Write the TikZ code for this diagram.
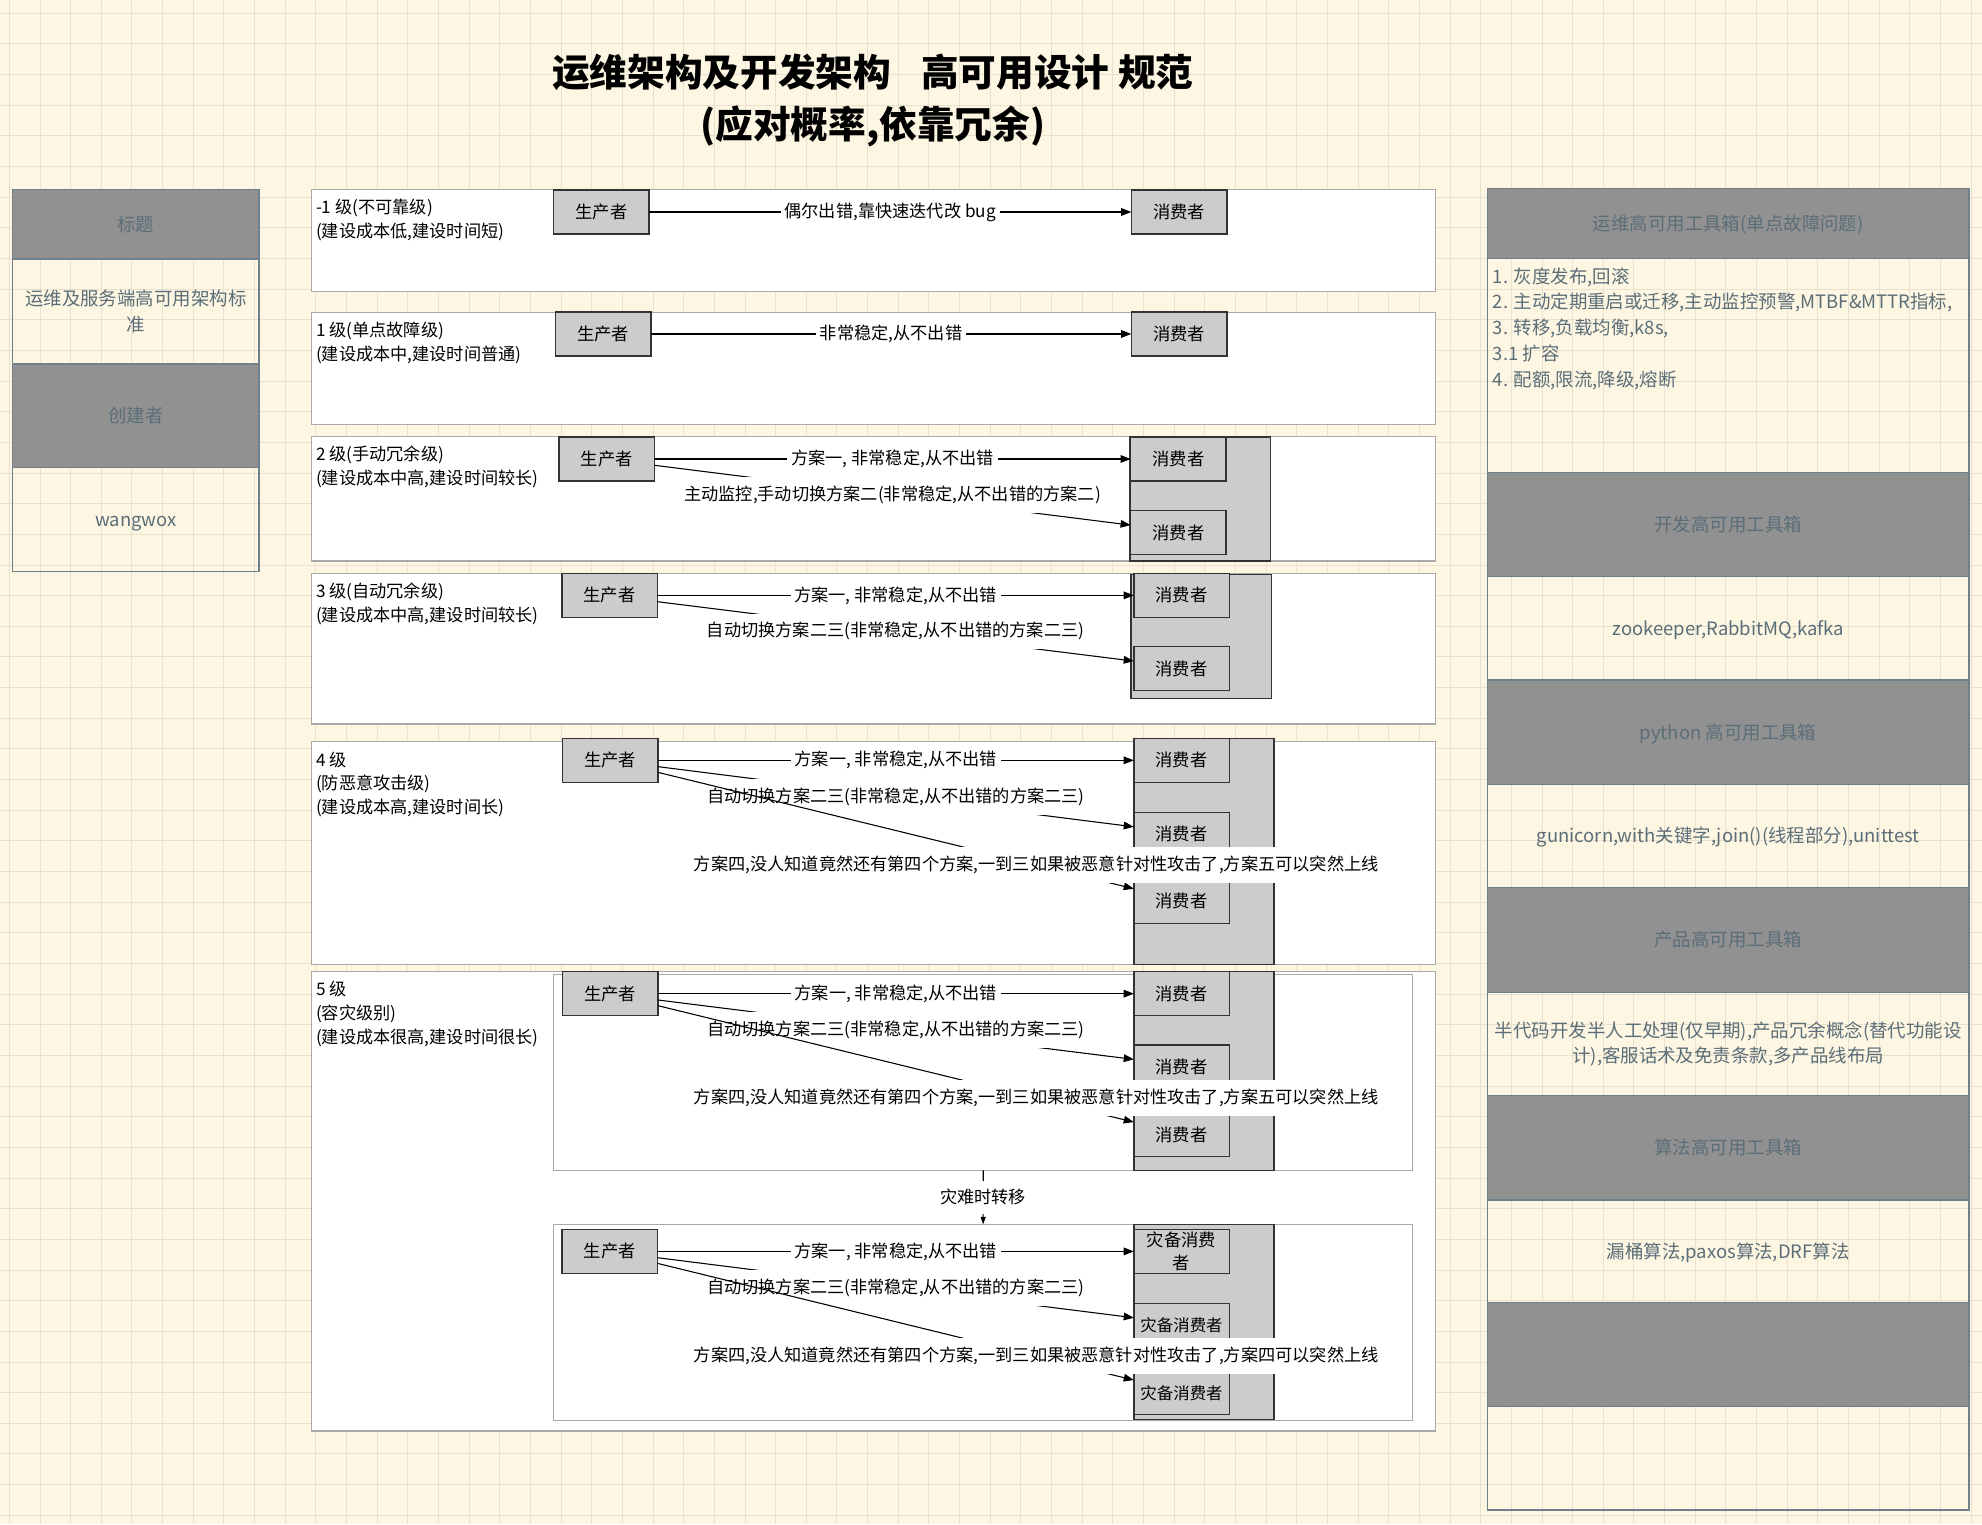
\documentclass[tikz,border=0pt]{standalone}
\usepackage{fontspec}
\setmainfont{Noto Sans CJK SC}
\usetikzlibrary{arrows.meta}
\definecolor{bgc}{HTML}{FDF6E3}
\definecolor{gridc}{HTML}{E9E1CF}
\definecolor{hdrfill}{HTML}{919191}
\definecolor{sideborder}{HTML}{6F818A}
\definecolor{sidetext}{HTML}{5B6E78}
\definecolor{panelborder}{HTML}{A9A9A9}
\definecolor{boxfill}{HTML}{CCCCCC}
\definecolor{boxborder}{HTML}{333333}
\tikzset{
  base/.style={inner sep=0pt, outer sep=0pt},
  gridline/.style={draw=gridc, line width=0.8pt},
  oneline/.style={text height=12.8pt, text depth=1.8pt},
  hdr/.style={base, draw=sideborder, fill=hdrfill, line width=1.1pt, text=sidetext, font=\fontsize{14.6}{20}\selectfont, anchor=north west, align=center},
  cell/.style={base, draw=sideborder, line width=1.1pt, text=sidetext, font=\fontsize{14.6}{20}\selectfont, anchor=north west, align=center},
  panel/.style={base, draw=panelborder, fill=white, line width=1.1pt, anchor=north west},
  prod/.style={base, draw=boxborder, fill=boxfill, line width=1.2pt, anchor=north west, minimum width=75.5pt, minimum height=34.8pt, font=\fontsize{13.7}{17.5}\selectfont, align=center},
  cont/.style={base, draw=boxborder, fill=boxfill, line width=1.2pt, anchor=north west, minimum width=111pt},
  lvl/.style={base, anchor=north west, align=left, font=\fontsize{13.6}{18.6}\selectfont},
  lbl/.style={fill=white, inner xsep=3pt, inner ysep=7pt, outer sep=0pt, font=\fontsize{13.6}{17}\selectfont, text=black},
  arr/.style={draw=black, line width=0.85pt, -{Triangle[length=8pt,width=6pt]}},
  arrsmall/.style={draw=black, line width=0.85pt, -{Triangle[length=6pt,width=4pt]}},
}
\begin{document}
\begin{tikzpicture}[x=1pt,y=-1pt]
\useasboundingbox (0,0) rectangle (1568,1205.7);
\fill[bgc] (0,0) rectangle (1568,1205.7);
\foreach \i in {0,...,64} \draw[gridline] ({7.4+24.25*\i},0) -- ({7.4+24.25*\i},1205.7);
\foreach \j in {0,...,49} \draw[gridline] (0,{10.5+24.25*\j}) -- (1568,{10.5+24.25*\j});

% title
\node[base, align=center, font=\fontsize{29.8}{41.5}\selectfont\bfseries] (title) at (690.5,79.5)
  {运维架构及开发架构\hspace{0.8em}高可用设计 规范\\(应对概率,依靠冗余)};

% left side panel
\node[hdr, oneline, minimum width=195pt, minimum height=55pt] (lh1) at (10,150) {标题};
\node[cell, minimum width=195pt, minimum height=83pt] (lb1) at (10,205) {运维及服务端高可用架构标\\准};
\node[hdr, oneline, minimum width=195pt, minimum height=82pt] (lh2) at (10,288) {创建者};
\node[cell, oneline, minimum width=195pt, minimum height=82pt] (lb2) at (10,370) {wangwox};

% right side panel
\node[hdr, oneline, minimum width=381pt, minimum height=55.4pt] (rh1) at (1176.7,149) {运维高可用工具箱(单点故障问题)};
\node[cell, minimum width=381pt, minimum height=169.6pt] (rb1) at (1176.7,204.4) {};
\node[base, anchor=north west, align=left, text=sidetext, font=\fontsize{14.6}{20.4}\selectfont] (rlist) at (1181,211.6)
  {1. 灰度发布,回滚\\2. 主动定期重启或迁移,主动监控预警,MTBF\&MTTR指标,\\3. 转移,负载均衡,k8s,\\3.1 扩容\\4. 配额,限流,降级,熔断};
\node[hdr, oneline, minimum width=381pt, minimum height=82pt] (rh2) at (1176.7,374) {开发高可用工具箱};
\node[cell, oneline, minimum width=381pt, minimum height=82pt] (rb2) at (1176.7,456) {zookeeper,RabbitMQ,kafka};
\node[hdr, oneline, minimum width=381pt, minimum height=82.5pt] (rh3) at (1176.7,538) {python 高可用工具箱};
\node[cell, oneline, minimum width=381pt, minimum height=81.8pt] (rb3) at (1176.7,620.5) {gunicorn,with关键字,join()(线程部分),unittest};
\node[hdr, oneline, minimum width=381pt, minimum height=82.7pt] (rh4) at (1176.7,702.3) {产品高可用工具箱};
\node[cell, minimum width=381pt, minimum height=81.8pt] (rb4) at (1176.7,785) {半代码开发半人工处理(仅早期),产品冗余概念(替代功能设\\计),客服话术及免责条款,多产品线布局};
\node[hdr, oneline, minimum width=381pt, minimum height=82.6pt] (rh5) at (1176.7,866.8) {算法高可用工具箱};
\node[cell, oneline, minimum width=381pt, minimum height=81.2pt] (rb5) at (1176.7,949.4) {漏桶算法,paxos算法,DRF算法};
\node[hdr, minimum width=381pt, minimum height=82pt] (rh6) at (1176.7,1030.6) {};
\node[cell, minimum width=381pt, minimum height=82pt] (rb6) at (1176.7,1112.6) {};

% middle panels
\node[panel, minimum width=889pt, minimum height=81pt] (P0) at (246.5,149.8) {};
\node[panel, minimum width=889pt, minimum height=88.6pt] (P1) at (246.5,247.1) {};
\node[panel, minimum width=889pt, minimum height=98.6pt] (P2) at (246.5,345.2) {};
\node[panel, minimum width=889pt, minimum height=119.2pt] (P3) at (246.5,453.6) {};
\node[panel, minimum width=889pt, minimum height=176.1pt] (P4) at (246.5,586.8) {};
\node[panel, minimum width=889pt, minimum height=363.4pt] (P5) at (246.5,768.7) {};

% level texts
\node[lvl] (t0) at (250,157.6) {-1 级(不可靠级)\\(建设成本低,建设时间短)};
\node[lvl] (t1) at (250,254.9) {1 级(单点故障级)\\(建设成本中,建设时间普通)};
\node[lvl] (t2) at (250,353) {2 级(手动冗余级)\\(建设成本中高,建设时间较长)};
\node[lvl] (t3) at (250,461.4) {3 级(自动冗余级)\\(建设成本中高,建设时间较长)};
\node[lvl] (t4) at (250,594.6) {4 级\\(防恶意攻击级)\\(建设成本高,建设时间长)};
\node[lvl] (t5) at (250,776.5) {5 级\\(容灾级别)\\(建设成本很高,建设时间很长)};

% level -1
\node[prod] (p0) at (438,150.3) {生产者};
\node[prod] (c0) at (895,150.3) {消费者};
\draw[arr] (p0.east) -- (c0.west) node[lbl, midway] {偶尔出错,靠快速迭代改 bug};

% level 1
\node[prod] (p1) at (439.5,246.8) {生产者};
\node[prod] (c1) at (895,246.8) {消费者};
\draw[arr] (p1.east) -- (c1.west) node[lbl, midway] {非常稳定,从不出错};

% level 2
\node[cont, minimum height=98.1pt] (k2) at (894.1,345.7) {};
\node[prod] (p2) at (442.2,345.7) {生产者};
\node[prod] (c2a) at (894.5,345.7) {消费者};
\node[prod] (c2b) at (894.5,404) {消费者};
\draw[arr] (p2.east) -- (c2a.west) node[lbl, midway] {方案一, 非常稳定,从不出错};
\draw[arr] ([yshift=-5pt]p2.east) -- ([yshift=6pt]c2b.west) node[lbl, midway] {主动监控,手动切换方案二(非常稳定,从不出错的方案二)};

% level 3
\node[cont, minimum height=98.1pt] (k3) at (894.8,454.4) {};
\node[prod] (p3) at (444.5,453.6) {生产者};
\node[prod] (c3a) at (897,453.6) {消费者};
\node[prod] (c3b) at (897,511.6) {消费者};
\draw[arr] (p3.east) -- (c3a.west) node[lbl, midway] {方案一, 非常稳定,从不出错};
\draw[arr] ([yshift=-5pt]p3.east) -- ([yshift=6pt]c3b.west) node[lbl, midway] {自动切换方案二三(非常稳定,从不出错的方案二三)};

% level 4
\node[cont, minimum height=178.8pt] (k4) at (897,584.1) {};
\node[prod] (p4) at (445,584.1) {生产者};
\node[prod] (c4a) at (897,584.1) {消费者};
\node[prod] (c4b) at (897,642.7) {消费者};
\node[prod] (c4c) at (897,695.7) {消费者};
\draw[arr] (p4.east) -- (c4a.west) node[lbl, midway] {方案一, 非常稳定,从不出错};
\draw[arr] ([yshift=-5pt]p4.east) -- ([yshift=6pt]c4b.west) node[lbl, midway] {自动切换方案二三(非常稳定,从不出错的方案二三)};
\draw[arr] ([yshift=-9.5pt]p4.east) -- ([yshift=10pt]c4c.west) node[lbl, pos=0.795] {方案四,没人知道竟然还有第四个方案,一到三如果被恶意针对性攻击了,方案五可以突然上线};

% level 5, normal
\node[panel, minimum width=679.5pt, minimum height=155.1pt] (g1) at (438.1,770.8) {};
\node[cont, minimum height=157.2pt] (k5) at (897,768.7) {};
\node[prod] (p5) at (445,768.7) {生产者};
\node[prod] (c5a) at (897,768.7) {消费者};
\node[prod] (c5b) at (897,826.7) {消费者};
\node[prod] (c5c) at (897,880.3) {消费者};
\draw[arr] (p5.east) -- (c5a.west) node[lbl, midway] {方案一, 非常稳定,从不出错};
\draw[arr] ([yshift=-5pt]p5.east) -- ([yshift=6pt]c5b.west) node[lbl, midway] {自动切换方案二三(非常稳定,从不出错的方案二三)};
\draw[arr] ([yshift=-9.5pt]p5.east) -- ([yshift=10pt]c5c.west) node[lbl, pos=0.795] {方案四,没人知道竟然还有第四个方案,一到三如果被恶意针对性攻击了,方案五可以突然上线};

% level 5, backup
\node[panel, minimum width=679.6pt, minimum height=155.1pt] (g2) at (438,968.6) {};
\node[cont, minimum height=154.3pt] (k6) at (897,968.6) {};
\node[prod] (p6) at (444.8,972.6) {生产者};
\node[prod] (c6a) at (897,972.6) {灾备消费\\者};
\node[prod, font=\fontsize{13}{17}\selectfont] (c6b) at (897,1031.1) {灾备消费者};
\node[prod, font=\fontsize{13}{17}\selectfont] (c6c) at (897,1084.4) {灾备消费者};
\draw[arr] (p6.east) -- (c6a.west) node[lbl, midway] {方案一, 非常稳定,从不出错};
\draw[arr] ([yshift=-5pt]p6.east) -- ([yshift=6pt]c6b.west) node[lbl, midway] {自动切换方案二三(非常稳定,从不出错的方案二三)};
\draw[arr] ([yshift=-9.5pt]p6.east) -- ([yshift=10pt]c6c.west) node[lbl, pos=0.795] {方案四,没人知道竟然还有第四个方案,一到三如果被恶意针对性攻击了,方案四可以突然上线};

% disaster transfer
\draw[arrsmall] (g1.south) -- (g2.north) node[lbl, midway] {灾难时转移};
\end{tikzpicture}
\end{document}
